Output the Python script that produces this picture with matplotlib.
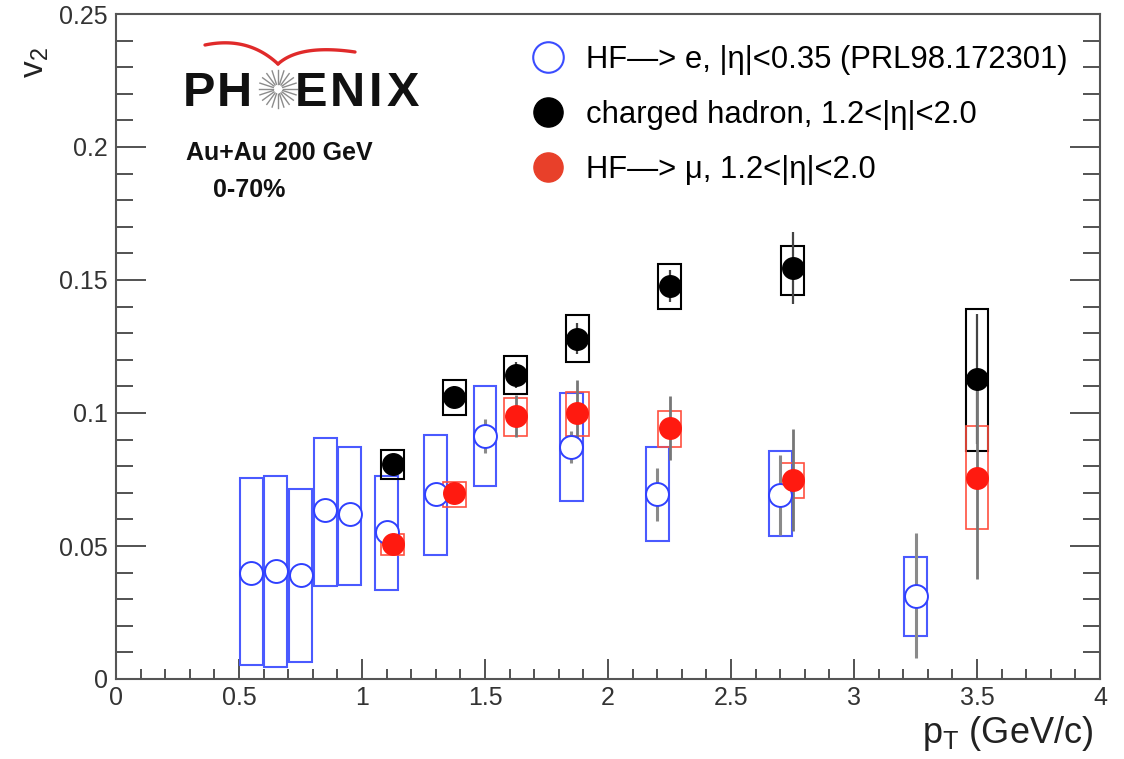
import numpy as np
import matplotlib
matplotlib.use('Agg')
import matplotlib.pyplot as plt
from matplotlib.lines import Line2D

plt.rcParams['font.family'] = ['Liberation Sans', 'DejaVu Sans']
plt.rcParams['mathtext.default'] = 'regular'

# HF -> e, |eta|<0.35 (PRL98.172301)
e_pt = [0.55, 0.65, 0.75, 0.85, 0.95, 1.1, 1.3, 1.5, 1.85, 2.2, 2.7, 3.25]
e_v2 = [0.0400, 0.0405, 0.0392, 0.0636, 0.0622, 0.0553, 0.0697, 0.0914, 0.0873, 0.0695, 0.0692, 0.0313]
e_stat = [0.002, 0.002, 0.002, 0.002, 0.002, 0.003, 0.003, 0.0065, 0.006, 0.010, 0.015, 0.0235]
e_sys_lo = [0.0053, 0.0045, 0.0064, 0.0350, 0.0353, 0.0335, 0.0466, 0.0726, 0.0670, 0.0520, 0.0538, 0.0160]
e_sys_hi = [0.0756, 0.0763, 0.0714, 0.0906, 0.0872, 0.0763, 0.0917, 0.1100, 0.1075, 0.0872, 0.0857, 0.0459]

# charged hadron, 1.2<|eta|<2.0
h_pt = [1.125, 1.375, 1.625, 1.875, 2.25, 2.75, 3.5]
h_v2 = [0.0808, 0.1060, 0.1143, 0.1280, 0.1477, 0.1545, 0.1128]
h_stat = [0.003, 0.004, 0.005, 0.006, 0.006, 0.0135, 0.0245]
h_sys_lo = [0.0752, 0.0992, 0.1071, 0.1190, 0.1390, 0.1444, 0.0857]
h_sys_hi = [0.0861, 0.1124, 0.1214, 0.1370, 0.1560, 0.1628, 0.1390]

# HF -> mu, 1.2<|eta|<2.0
m_pt = [1.125, 1.375, 1.625, 1.875, 2.25, 2.75, 3.5]
m_v2 = [0.0508, 0.0699, 0.0989, 0.1000, 0.0944, 0.0748, 0.0756]
m_stat = [0.002, 0.003, 0.008, 0.0123, 0.012, 0.019, 0.038]
m_sys_lo = [0.0466, 0.0647, 0.0914, 0.0914, 0.0872, 0.0680, 0.0564]
m_sys_hi = [0.0545, 0.0740, 0.1056, 0.1080, 0.1008, 0.0812, 0.0951]

legend_labels = ['HF\u2014> e, |\u03b7|<0.35 (PRL98.172301)',
                 'charged hadron, 1.2<|\u03b7|<2.0',
                 'HF\u2014> \u03bc, 1.2<|\u03b7|<2.0']

W, H = 1124, 759
fig = plt.figure(figsize=(W / 100, H / 100), dpi=100)
ax = fig.add_axes([116 / W, 1 - 679 / H, 984 / W, 665 / H])

blue = '#2f40ff'
red = '#ff1a10'
box_w = 0.093


def sys_boxes(x, lo, hi, color, lw):
    ax.bar(x, np.array(hi) - np.array(lo), bottom=lo, width=box_w, fill=False,
           edgecolor=color, linewidth=lw, zorder=2)


sys_boxes(e_pt, e_sys_lo, e_sys_hi, '#4a5aff', 1.5)
sys_boxes(h_pt, h_sys_lo, h_sys_hi, 'black', 1.5)
sys_boxes(m_pt, m_sys_lo, m_sys_hi, '#ff5040', 1.2)

ax.errorbar(e_pt, e_v2, yerr=e_stat, fmt='none', ecolor='#8a8a8a', elinewidth=2.2, capsize=0, zorder=3)
ax.errorbar(h_pt, h_v2, yerr=h_stat, fmt='none', ecolor='#444444', elinewidth=1.6, capsize=0, zorder=3)
ax.errorbar(m_pt, m_v2, yerr=m_stat, fmt='none', ecolor='#777777', elinewidth=2.0, capsize=0, zorder=3)

ax.plot(e_pt, e_v2, 'o', ms=16.5, mfc='white', mec=blue, mew=1.4, ls='none', zorder=4)
ax.plot(h_pt, h_v2, 'o', ms=15.5, color='black', ls='none', zorder=5)
ax.plot(m_pt, m_v2, 'o', ms=15.5, color=red, ls='none', zorder=5)

ax.set_xlim(0, 4)
ax.set_ylim(0, 0.25)
ax.set_xticks(np.arange(0, 4.01, 0.5))
ax.set_xticks(np.arange(0, 4.01, 0.1), minor=True)
ax.set_yticks(np.arange(0, 0.251, 0.05))
ax.set_yticks(np.arange(0, 0.251, 0.01), minor=True)
ax.set_xticklabels(['0', '0.5', '1', '1.5', '2', '2.5', '3', '3.5', '4'])
ax.set_yticklabels(['0', '0.05', '0.1', '0.15', '0.2', '0.25'])

ax.tick_params(which='both', direction='in', right=True, top=False,
               labelsize=18, labelcolor='#333333', color='#444444', width=1.3)
ax.tick_params(axis='x', which='major', length=14.5, pad=5)
ax.tick_params(axis='x', which='minor', length=7.5)
ax.tick_params(axis='y', which='major', length=21.5, pad=6)
ax.tick_params(axis='y', which='minor', length=12)
for s in ax.spines.values():
    s.set_color('#555555')
    s.set_linewidth(1.5)

ax.set_xlabel('p$_T$ (GeV/c)', fontsize=26, color='#222222', loc='right')
ax.xaxis.set_label_coords(0.993, -0.052)
ax.set_ylabel('v$_2$', fontsize=24, color='#222222', loc='top')
ax.yaxis.set_label_coords(-0.066, 0.95)

# legend
handles = [Line2D([], [], marker='o', ls='none', ms=22, mfc='white', mec='#3a4cff', mew=1.5),
           Line2D([], [], marker='o', ls='none', ms=21, color='black'),
           Line2D([], [], marker='o', ls='none', ms=21, color='#e8402a')]
fig.legend(handles, legend_labels, loc='upper left', bbox_to_anchor=(533 / W, 1 - 45 / H),
           bbox_transform=fig.transFigure, frameon=False, fontsize=22.3, borderpad=0,
           borderaxespad=0, handlelength=1.0, handletextpad=0.7, labelspacing=0.8)


# PHENIX logo (pixel positions -> figure fraction)
def fx(px):
    return px / W


def fy(py):
    return 1 - py / H


for letter, px in zip(['P', 'H', 'E', 'N', 'I', 'X'], [183, 217, 295, 330, 369, 387]):
    fig.text(fx(px), fy(106), letter, fontsize=35, fontweight='bold', color='#111111',
             ha='left', va='baseline')

cx, cy = 278, 89
for a in np.linspace(0, 2 * np.pi, 20, endpoint=False):
    fig.add_artist(Line2D([fx(cx + 5 * np.cos(a)), fx(cx + 19 * np.cos(a))],
                          [fy(cy + 5 * np.sin(a)), fy(cy + 19 * np.sin(a))],
                          color='#8c8c8c', lw=1.0))

t = np.linspace(0, 1, 40)
wing_l = [(205, 45), (248, 36), (278, 64)]
wing_r = [(278, 64), (300, 44), (355, 52)]
for (p0, p1, p2), lw in zip([wing_l, wing_r], [2.4, 2.4]):
    bx = (1 - t) ** 2 * p0[0] + 2 * (1 - t) * t * p1[0] + t ** 2 * p2[0]
    by = (1 - t) ** 2 * p0[1] + 2 * (1 - t) * t * p1[1] + t ** 2 * p2[1]
    fig.add_artist(Line2D(fx(bx), fy(by), color='#e02a2a', lw=lw, solid_capstyle='round'))

fig.text(fx(186), fy(160), 'Au+Au 200 GeV', fontsize=18, fontweight='bold', color='#111111',
         ha='left', va='baseline')
fig.text(fx(213), fy(197), '0-70%', fontsize=18, fontweight='bold', color='#111111',
         ha='left', va='baseline')

fig.savefig('out.png', dpi=100, facecolor='white')
